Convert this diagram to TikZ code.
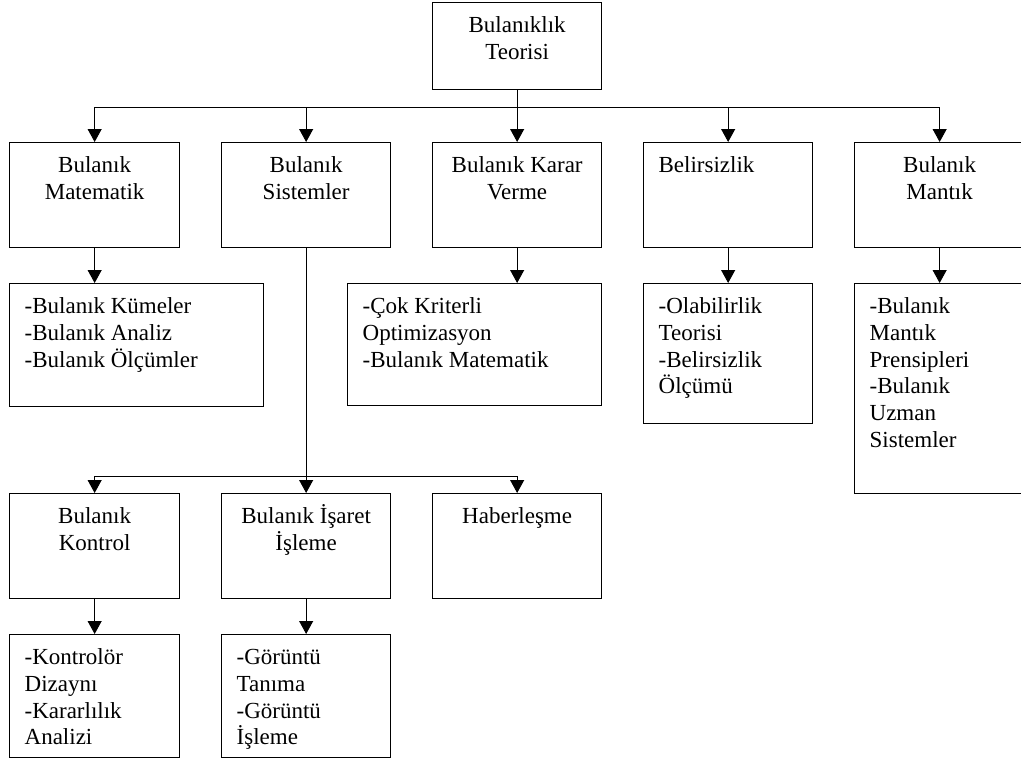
\documentclass[tikz,border=0pt]{standalone}
\usepackage{fontspec}
\setmainfont{Liberation Serif}
\usetikzlibrary{arrows.meta,positioning}

% box contents: width, height, text (top aligned)
\newcommand{\ctext}[3]{\parbox[c][#2pt][t]{#1pt}{\centering\rule{0pt}{30pt}#3}}
\newcommand{\ltext}[3]{\parbox[c][#2pt][t]{#1pt}{\leftskip=15pt\rightskip=0pt plus 1fil\rule{0pt}{30pt}#3}}

\begin{document}
\begin{tikzpicture}[x=1pt,y=-1pt,
    box/.style={draw, line width=1.3pt, inner sep=0pt, anchor=north west, font=\fontsize{23}{26.7}\selectfont},
    link/.style={line width=1pt},
    arr/.style={line width=1pt, -{Triangle[length=13pt,width=14pt]}}]
	\useasboundingbox (0,0) rectangle (1021,761);

	% top
	\node[box] (teori) at (432,2) {\ctext{169}{87}{Bulanıklık\\Teorisi}};

	% first level
	\node[box] (mat) at (9,142) {\ctext{170}{105}{Bulanık\\Matematik}};
	\node[box] (sis) at (221,142) {\ctext{169}{105}{Bulanık\\Sistemler}};
	\node[box] (karar) at (432,142) {\ctext{169}{105}{Bulanık Karar\\Verme}};
	\node[box] (belir) at (643,142) {\ltext{169}{105}{Belirsizlik}};
	\node[box] (mantik) at (854,142) {\ctext{170}{105}{Bulanık\\Mantık}};

	% second level
	\node[box] (kume) at (9,283) {\ltext{254}{123}{-Bulanık Kümeler\\-Bulanık Analiz\\-Bulanık Ölçümler}};
	\node[box] (optim) at (347,283) {\ltext{254}{122}{-Çok Kriterli\\Optimizasyon\\-Bulanık Matematik}};
	\node[box] (olasi) at (643,283) {\ltext{169}{140}{-Olabilirlik\\Teorisi\\-Belirsizlik\\Ölçümü}};
	\node[box] (ilke) at (854,283) {\ltext{170}{210}{-Bulanık\\Mantık\\Prensipleri\\-Bulanık\\Uzman\\Sistemler}};

	% systems branch
	\node[box] (kontrol) at (9,493) {\ctext{170}{105}{Bulanık\\Kontrol}};
	\node[box] (isaret) at (221,493) {\ctext{169}{105}{Bulanık İşaret\\İşleme}};
	\node[box] (haber) at (432,493) {\ctext{169}{105}{Haberleşme}};

	\node[box] (dizayn) at (9,634) {\ltext{170}{123}{-Kontrolör\\Dizaynı\\-Kararlılık\\Analizi}};
	\node[box] (goruntu) at (221,634) {\ltext{169}{123}{-Görüntü\\Tanıma\\-Görüntü\\İşleme}};

	% connectors
	\coordinate (hub) at (teori.south |- 0,107);
	\draw[link] (teori.south) -- (hub);
	\draw[link] (mat.north |- hub) -- (mantik.north |- hub);
	\foreach \n in {mat,sis,karar,belir,mantik}
		\draw[arr] (\n.north |- hub) -- (\n.north);

	\draw[arr] (mat.south) -- (mat.south |- kume.north);
	\draw[arr] (karar.south) -- (karar.south |- optim.north);
	\draw[arr] (belir.south) -- (olasi.north);
	\draw[arr] (mantik.south) -- (ilke.north);

	\coordinate (hub2) at (sis.south |- 0,476);
	\draw[link] (sis.south) -- (hub2);
	\draw[link] (kontrol.north |- hub2) -- (haber.north |- hub2);
	\foreach \n in {kontrol,isaret,haber}
		\draw[arr] (\n.north |- hub2) -- (\n.north);

	\draw[arr] (kontrol.south) -- (dizayn.north);
	\draw[arr] (isaret.south) -- (goruntu.north);
\end{tikzpicture}
\end{document}
